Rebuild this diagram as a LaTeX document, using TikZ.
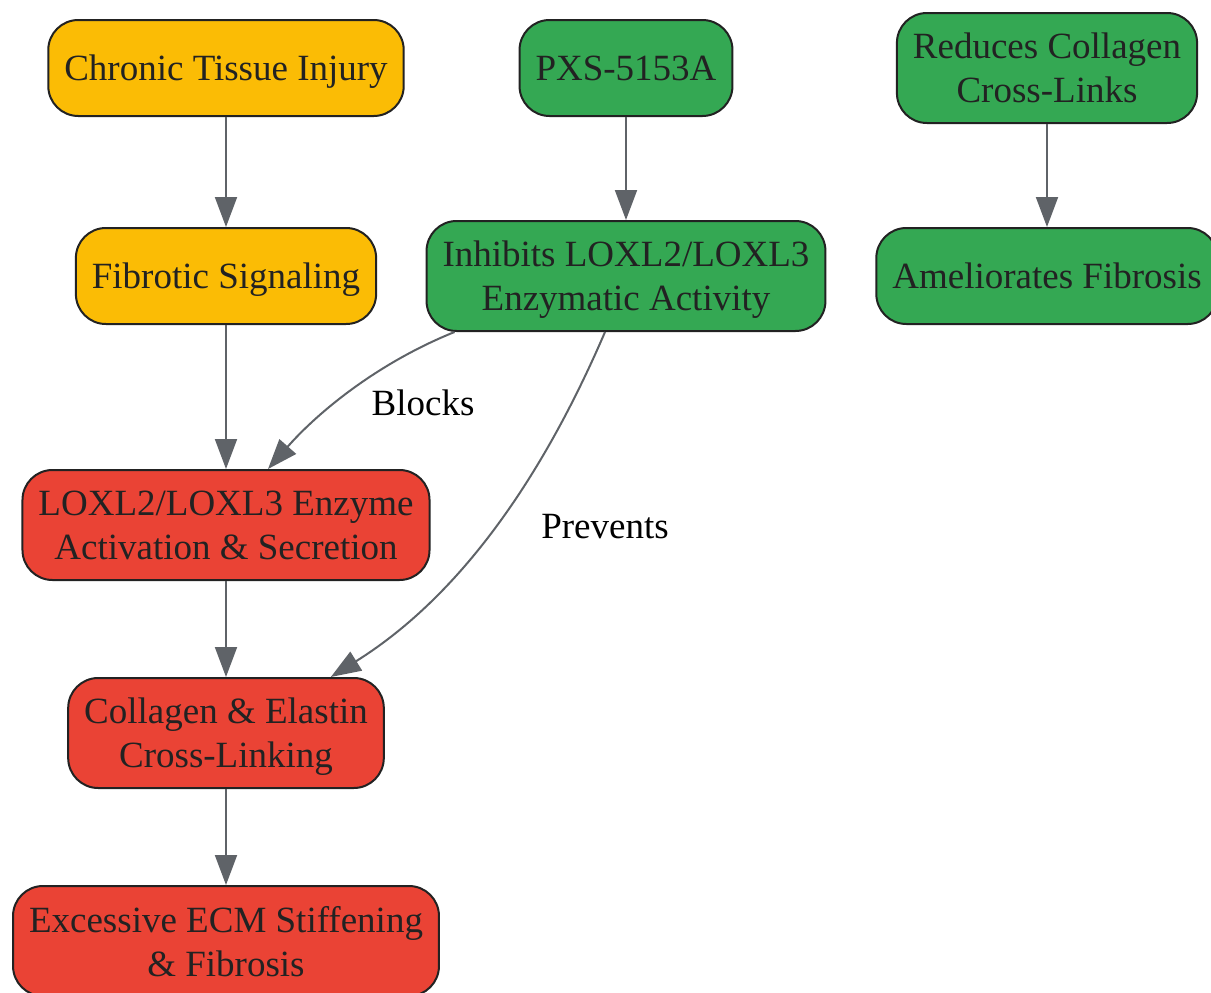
\documentclass[tikz,border=0pt]{standalone}
\usepackage{fontspec}
\setmainfont{Liberation Serif}
\usepackage{tikz}
\usetikzlibrary{arrows.meta}
\usetikzlibrary{positioning}

\definecolor{injury}{HTML}{FBBC05}
\definecolor{drug}{HTML}{34A853}
\definecolor{fibro}{HTML}{EA4335}
\definecolor{edgegray}{HTML}{5F6368}
\definecolor{ink}{HTML}{222222}

\tikzset{
  box/.style={draw=ink, line width=2pt, rounded corners=30pt, align=center,
    text=ink, inner xsep=16pt, inner ysep=14pt, minimum height=96pt,
    text depth=0pt, font=\fontsize{37}{44}\selectfont},
  tallbox/.style={box, minimum height=110pt},
  flow/.style={draw=edgegray, line width=2pt, -{Triangle[length=30pt,width=22pt]}},
  lbl/.style={text=black, font=\fontsize{37}{44}\selectfont}
}

\begin{document}
\begin{tikzpicture}[x=1pt, y=-1pt]
  \useasboundingbox (0, 0) rectangle (1211, 993);

  % injury side
  \node[box, fill=injury] (inj) at (226, 68) {Chronic Tissue Injury};
  \node[box, fill=injury] (sig) at (226, 276) {Fibrotic Signaling};
  \node[tallbox, fill=fibro] (lox) at (226, 525) {LOXL2/LOXL3 Enzyme\\Activation \& Secretion};
  \node[tallbox, fill=fibro] (col) at (226, 733) {Collagen \& Elastin\\Cross-Linking};
  \node[tallbox, fill=fibro] (ecm) at (226, 941) {Excessive ECM Stiffening\\\& Fibrosis};

  % drug side
  \node[box, fill=drug] (pxs) at (626, 68) {PXS-5153A};
  \node[tallbox, fill=drug] (inh) at (626, 276) {Inhibits LOXL2/LOXL3\\Enzymatic Activity};
  \node[tallbox, fill=drug] (red) at (1047, 68) {Reduces Collagen\\Cross-Links};
  \node[box, fill=drug] (ame) at (1047, 276) {Ameliorates Fibrosis};

  \draw[flow] (inj) -- (sig);
  \draw[flow] (sig) -- (lox);
  \draw[flow] (lox) -- (col);
  \draw[flow] (col) -- (ecm);
  \draw[flow] (pxs) -- (inh);
  \draw[flow] (red) -- (ame);

  \draw[flow] ([xshift=29pt]inh.south west) .. controls (380, 362) and (320, 410) .. ([xshift=42pt]lox.north);
  \draw[flow] ([xshift=-21pt]inh.south) .. controls (550, 460) and (470, 590) .. ([xshift=-54pt]col.north east);

  \node[lbl] (blk) at (423, 403) {Blocks};
  \node[lbl] (prv) at (605, 527) {Prevents};
\end{tikzpicture}
\end{document}
